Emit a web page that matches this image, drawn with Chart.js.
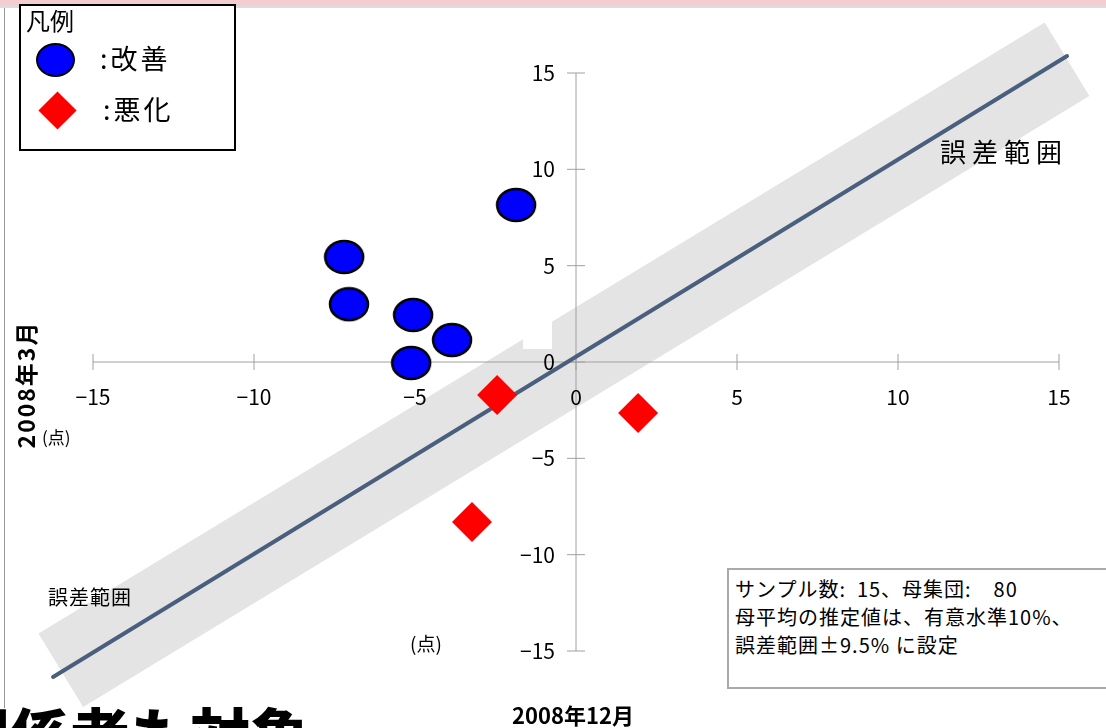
<!DOCTYPE html>
<html>
<head>
<meta charset="utf-8">
<script src="https://cdn.jsdelivr.net/npm/chart.js@4"></script>
<style>
  body { margin: 0; background: #fff; font-family: "Noto Sans CJK JP", sans-serif; }
  #wrap { position: relative; width: 1106px; height: 728px; overflow: hidden; }
  canvas { position: absolute; left: 0; top: 0; }
  .t { position: absolute; white-space: nowrap; color: #000; line-height: 1; }
</style>
</head>
<body>
<div id="wrap">
  <canvas id="myChart" width="1106" height="728"></canvas>

  <!-- slide remnants -->
  <div style="position:absolute;left:0;top:0;width:1106px;height:6px;background:#f4cdd0;"></div>
  <div style="position:absolute;left:0;top:6px;width:1106px;height:2px;background:#dcdcdc;"></div>
  <div style="position:absolute;left:4px;top:8px;width:1px;height:700px;background:#999;"></div>
  <div style="position:absolute;left:523px;top:322px;width:29px;height:27px;background:#fff;"></div>

  <!-- legend box -->
  <div style="position:absolute;left:19px;top:4px;width:213px;height:143px;border:2px solid #000;background:#fff;"></div>
  <div class="t" style="left:26px;top:8px;font-size:24px;">凡例</div>
  <div style="position:absolute;left:36px;top:43px;width:35px;height:30px;border-radius:50%;background:#0000ff;border:2px solid #000;"></div>
  <div class="t" style="left:100px;top:44px;font-size:27px;letter-spacing:3px;">:改善</div>
  <div style="position:absolute;left:44px;top:97px;width:27px;height:27px;background:#ff0000;transform:rotate(45deg);"></div>
  <div class="t" style="left:103px;top:95px;font-size:27px;letter-spacing:3px;">:悪化</div>

  <!-- annotations -->
  <div class="t" style="left:940px;top:138px;font-size:26px;letter-spacing:6px;">誤差範囲</div>
  <div class="t" style="left:48px;top:587px;font-size:20px;letter-spacing:1px;">誤差範囲</div>
  <div class="t" style="left:410px;top:633px;font-size:19px;">(点)</div>
  <div class="t" style="left:42px;top:428px;font-size:17px;">(点)</div>
  <div class="t" style="left:512px;top:703px;font-size:22px;font-weight:bold;">2008年12月</div>
  <div class="t" style="left:-45px;top:373px;font-size:23px;font-weight:bold;letter-spacing:2px;transform:rotate(-90deg);transform-origin:center;width:140px;text-align:center;">2008年3月</div>

  <!-- info box -->
  <div style="position:absolute;left:727px;top:568px;width:380px;height:117px;border:2px solid #aaa;background:#fff;"></div>
  <div class="t" style="left:735px;top:575px;font-size:20px;line-height:28px;letter-spacing:1px;">サンプル数:&nbsp; 15、母集団:&nbsp;&nbsp;&nbsp; 80<br>母平均の推定値は、有意水準10%、<br>誤差範囲±9.5% に設定</div>

  <div class="t" style="left:-50px;top:703px;font-size:60px;font-weight:900;">関係者も対象</div>
</div>

<script>
  // Data
  var blueX = [-1.86, -7.2, -7.05, -5.06, -3.85, -5.12];
  var blueY = [8.15, 5.45, 3.0, 2.44, 1.14, -0.05];
  var redX = [-2.45, 1.93, -3.23];
  var redY = [-1.71, -2.65, -8.3];
  var lineX = [-16.24, 15.25];
  var lineY = [-16.35, 15.88];
  var bandX = [-16.0, 15.25];
  var bandY = [-16.0, 15.72];
  var tickValues = [-15, -10, -5, 0, 5, 10, 15];

  function toPoints(xs, ys) {
    return xs.map(function (x, i) { return { x: x, y: ys[i] }; });
  }

  // blue octagon-ish marker
  var blueImg = document.createElement('canvas');
  blueImg.width = 42;
  blueImg.height = 36;
  var bctx = blueImg.getContext('2d');
  bctx.beginPath();
  bctx.ellipse(21, 18, 19, 16, 0, 0, Math.PI * 2);
  bctx.fillStyle = '#0000ff';
  bctx.fill();
  bctx.lineWidth = 2.5;
  bctx.strokeStyle = '#000';
  bctx.stroke();

  // draw crossing axes under the diagonal line
  var crossAxes = {
    id: 'crossAxes',
    beforeDatasetDraw: function (chart, args) {
      if (args.index !== 1) return;
      var c = chart.ctx, xs = chart.scales.x, ys = chart.scales.y;
      var x0 = xs.getPixelForValue(0), y0 = ys.getPixelForValue(0);
      c.save();
      c.strokeStyle = '#a0a0a0';
      c.lineWidth = 1;
      c.beginPath();
      c.moveTo(xs.getPixelForValue(-15), y0);
      c.lineTo(xs.getPixelForValue(15), y0);
      c.moveTo(x0, ys.getPixelForValue(15));
      c.lineTo(x0, ys.getPixelForValue(-15));
      tickValues.forEach(function (v) {
        var px = xs.getPixelForValue(v), py = ys.getPixelForValue(v);
        c.moveTo(px, y0 - 8);
        c.lineTo(px, y0 + 8);
        c.moveTo(x0 - 9, py);
        c.lineTo(x0 + 9, py);
      });
      c.stroke();
      c.restore();
    }
  };

  var tickFont = { family: '"Noto Sans CJK JP", sans-serif', size: 21 };
  function minusLabel(v) { return String(v).replace('-', '\u2212'); }
  // y labels sit left of the axis; padding is ignored for value-positioned axes
  function yLabel(v) { return minusLabel(v) + '\u2002\u2002'; }

  var ctx = document.getElementById('myChart').getContext('2d');
  var chart = new Chart(ctx, {
    type: 'scatter',
    data: {
      datasets: [
        {
          type: 'line',
          data: toPoints(bandX, bandY),
          borderColor: '#e4e4e4',
          borderWidth: 86,
          borderCapStyle: 'butt',
          pointRadius: 0,
          clip: false,
          order: 4
        },
        {
          type: 'line',
          data: toPoints(lineX, lineY),
          borderColor: '#4a5f7e',
          borderWidth: 4,
          borderCapStyle: 'round',
          pointRadius: 0,
          clip: false,
          order: 3
        },
        {
          data: toPoints(redX, redY),
          pointStyle: 'rectRot',
          pointRadius: 20,
          backgroundColor: '#ff0000',
          borderWidth: 0,
          clip: false,
          order: 2
        },
        {
          data: toPoints(blueX, blueY),
          pointStyle: blueImg,
          clip: false,
          order: 1
        }
      ]
    },
    options: {
      responsive: false,
      animation: false,
      layout: { padding: { left: 93, right: 47, top: 73, bottom: 77 } },
      plugins: { legend: { display: false }, tooltip: { enabled: false } },
      scales: {
        x: {
          type: 'linear',
          position: { y: 0 },
          min: -15,
          max: 15,
          grid: { display: false },
          border: { display: false },
          ticks: { z: 1, stepSize: 5, color: '#000', font: tickFont, padding: 14, callback: minusLabel }
        },
        y: {
          type: 'linear',
          position: { x: 0 },
          min: -15,
          max: 15,
          grid: { display: false },
          border: { display: false },
          ticks: { z: 1, stepSize: 5, color: '#000', font: tickFont, padding: 24, callback: yLabel }
        }
      }
    },
    plugins: [crossAxes]
  });
</script>
</body>
</html>
